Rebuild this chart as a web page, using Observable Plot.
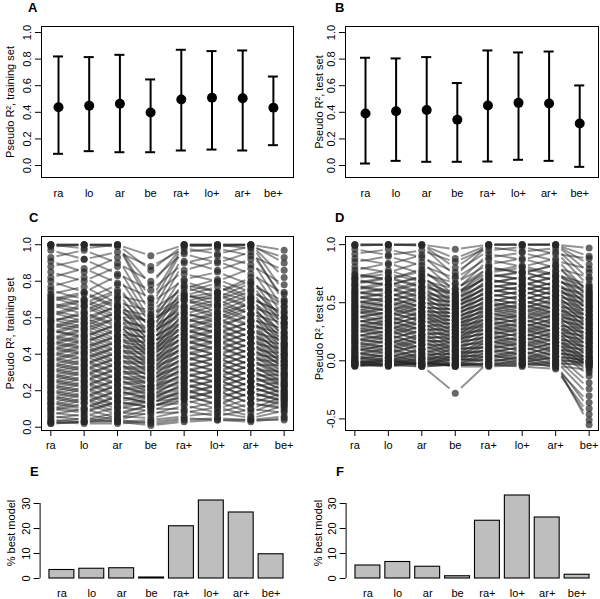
<!DOCTYPE html>
<html><head><meta charset="utf-8">
<script src="https://cdn.jsdelivr.net/npm/d3@7"></script>
<script src="https://cdn.jsdelivr.net/npm/@observablehq/plot@0.6"></script>
<style>
body{margin:0;background:#fff;}
#root{position:relative;width:600px;height:599px;overflow:hidden;background:#fff;font-family:"Liberation Sans",Arial,Helvetica,sans-serif;}
.lab{position:absolute;font-weight:bold;font-size:13px;line-height:13px;color:#000;}
</style></head><body><div id="root"></div>
<script>
// ---------- data ----------
const models = ["ra", "lo", "ar", "be", "ra+", "lo+", "ar+", "be+"];

// Panel A: training set (mean and interval)
const trainMean = [0.438, 0.450, 0.464, 0.398, 0.496, 0.509, 0.506, 0.434];
const trainLow  = [0.088, 0.108, 0.100, 0.100, 0.113, 0.120, 0.113, 0.153];
const trainHigh = [0.820, 0.815, 0.832, 0.647, 0.870, 0.860, 0.865, 0.669];

// Panel B: test set
const testMean = [0.391, 0.408, 0.418, 0.344, 0.451, 0.471, 0.466, 0.316];
const testLow  = [0.015, 0.035, 0.028, 0.028, 0.030, 0.043, 0.035, -0.010];
const testHigh = [0.810, 0.805, 0.815, 0.620, 0.865, 0.850, 0.857, 0.602];

// Panel C: per-case pseudo R² (x100), training set; columns follow `models`
const trainRows = [
"100 100 100 94 100 100 100 97","100 100 100 86 100 100 100 90","100 100 99 78 100 100 100 82",
"99 100 100 70 100 99 100 74","100 98 100 66 99 100 98 68","97 92 96 88 98 95 99 93",
"93 97 90 80 96 98 94 86","91 85 93 62 95 90 96 70","88 92 84 75 90 94 89 78",
"85 80 88 58 91 86 92 64","82 87 79 71 86 91 84 73","80 74 83 56 84 80 87 60",
"77 82 72 68 81 85 78 69","75 70 78 53 80 74 82 57","73 77 68 64 76 81 74 66",
"71 66 74 50 77 71 79 55","69 73 65 61 72 77 70 63","67 62 70 48 73 67 75 52",
"65 69 61 58 69 73 66 60","63 58 67 46 70 63 71 49","61 66 58 55 65 70 62 57",
"59 55 63 44 66 60 68 46","58 62 55 52 62 67 59 54","56 52 60 41 63 57 65 44",
"54 59 51 49 58 63 56 51","53 49 57 39 60 54 62 42","51 56 48 46 55 60 52 48",
"49 46 54 37 57 51 58 40","48 53 45 43 52 57 49 45","46 43 50 35 54 48 55 38",
"45 50 42 41 49 54 46 43","43 40 47 33 51 45 52 36","42 47 39 38 46 51 43 40",
"40 37 44 31 48 42 49 34","39 44 36 36 43 48 40 38","37 34 41 29 45 39 46 32",
"36 41 33 33 40 45 37 36","34 31 38 27 42 36 43 30","33 37 30 31 37 41 34 34",
"31 28 35 25 39 33 40 28","30 34 27 28 34 38 31 31","28 25 32 23 36 30 37 26",
"27 31 24 26 31 35 28 29","25 22 29 21 33 27 34 24","24 28 21 23 28 32 25 27",
"22 19 26 19 30 24 31 22","21 25 18 21 25 29 22 25","19 16 23 17 27 21 28 20",
"18 22 15 18 22 26 19 23","16 13 20 15 24 18 25 18","15 19 12 16 19 23 16 21",
"13 10 17 13 21 15 22 16","12 16 10 14 16 20 13 19","10 8 14 11 18 12 19 14",
"9 13 7 12 13 17 10 17","8 6 11 9 15 10 16 12","7 10 5 10 10 14 8 15",
"6 4 8 7 12 8 13 10","5 7 4 8 8 11 6 12","4 3 6 5 9 6 10 8",
"3 5 3 4 6 8 5 9","2 3 4 2 4 5 4 6","3 2 2 3 5 4 3 5","2 3 3 1 3 4 4 4",
"72 68 75 60 78 74 80 66","70 74 66 57 74 79 71 62","68 64 71 55 72 70 76 60",
"66 70 63 58 71 74 69 57","64 60 66 50 70 66 72 58","62 67 60 53 67 72 65 52",
"60 57 63 47 66 62 68 55","58 63 56 51 64 68 62 49","57 54 60 45 62 59 66 50",
"55 60 53 48 60 65 58 46","53 50 56 43 59 56 61 47","52 57 50 46 57 62 55 44",
"50 47 53 41 56 52 58 45","49 54 47 44 54 59 52 41","47 44 50 39 53 49 55 42",
"46 51 44 42 51 56 49 39","44 41 47 37 50 46 52 40","43 48 41 40 48 53 46 36",
"41 38 44 35 47 43 49 37","40 45 38 37 45 50 43 34","38 35 41 33 44 40 46 35",
"37 42 35 35 42 47 40 32","35 32 38 31 41 37 43 33","34 39 32 32 39 44 37 29",
"32 29 35 28 38 34 40 30","31 36 29 30 36 41 34 27","29 26 32 26 35 31 37 28",
"28 33 26 27 33 38 31 24","26 23 29 23 32 28 34 25","25 30 23 25 30 35 28 22",
"23 20 26 21 29 25 31 23","22 27 20 22 27 32 25 19","20 17 23 18 26 22 28 20",
"19 24 17 20 24 29 22 17","17 14 20 16 23 19 25 18","16 21 14 17 21 26 19 15",
"14 11 17 13 20 16 22 16","13 18 11 15 18 23 16 13","11 9 14 11 17 13 19 14",
"10 15 8 12 15 20 13 11"
];

// Panel D: per-case pseudo R² (x100), test set
const testRows = [
"100 100 100 96 100 100 100 97","100 100 100 88 100 100 100 90","100 100 100 80 100 100 100 83",
"99 100 99 73 100 100 100 76","96 91 95 85 98 94 97 70","92 96 89 76 95 98 92 88",
"88 83 91 66 92 87 94 64","85 90 82 71 89 93 86 79","81 76 85 60 87 81 88 58",
"78 84 75 67 83 88 80 72","75 70 79 56 81 75 83 54","72 78 69 62 77 82 74 66",
"70 65 73 52 75 70 77 50","67 72 64 58 72 77 69 61","65 60 69 48 70 65 73 46",
"62 68 59 54 67 72 64 57","60 55 64 45 66 60 68 43","58 63 55 50 63 68 60 53",
"56 51 60 41 62 56 65 39","54 59 50 47 59 64 56 49","52 47 56 38 58 52 61 36",
"50 55 46 44 55 60 52 46","48 43 53 35 54 48 57 33","47 52 43 41 51 56 48 42",
"45 40 49 32 51 45 54 30","43 48 40 38 47 52 44 39","42 37 46 29 48 42 50 27",
"40 45 37 35 44 49 41 36","38 33 42 27 44 38 47 24","37 42 34 32 41 46 38 33",
"35 30 39 24 41 35 43 21","33 38 30 29 37 42 35 30","32 27 36 21 38 32 40 18",
"30 35 27 26 34 39 31 27","29 24 33 18 35 29 37 15","27 32 23 23 31 36 28 24",
"26 21 30 16 32 26 34 12","24 29 20 20 28 33 25 21","22 18 27 13 29 23 31 9",
"21 26 17 17 25 30 22 18","19 15 23 10 26 20 28 6","18 23 14 14 22 27 19 15",
"16 12 20 8 23 17 25 3","15 20 11 11 19 24 16 12","13 9 17 5 20 14 22 0",
"11 17 8 8 16 21 13 9","10 6 14 3 17 11 19 -3","8 14 5 6 13 18 10 6",
"7 3 10 1 14 8 16 -6","6 11 3 4 10 15 7 3","4 1 7 -1 11 5 13 -10",
"3 8 1 2 7 12 4 0","2 -1 4 -3 8 2 10 -13","1 5 -2 0 4 9 1 -2",
"0 -2 2 -4 5 0 6 -19","-1 3 -3 -2 2 6 -1 -5","-2 -3 0 -5 2 -1 3 -24",
"-3 1 -4 -28 -1 3 -4 -8","-4 -4 -2 -4 -2 -3 0 -30","-5 -2 -5 -3 -4 1 -6 -36",
"-3 -5 -1 -5 -5 -4 -3 -41","-2 0 -4 -2 -3 -5 -7 -46","-4 -3 -3 -4 -2 -2 -5 -51",
"-1 -4 -5 -3 -4 -3 -2 -55",
"74 70 77 62 80 76 82 60","71 75 68 58 76 80 73 63","69 65 72 55 74 70 77 56",
"66 71 63 57 72 76 69 59","64 59 67 51 70 65 72 52","61 66 58 53 67 72 64 55",
"59 55 62 48 65 61 68 48","57 62 54 50 63 67 60 51","55 51 58 45 61 57 64 44",
"53 58 50 47 59 64 56 47","51 47 54 42 57 53 60 40","49 54 46 44 55 60 52 43",
"47 43 50 39 53 49 56 36","45 50 42 41 51 56 48 39","43 39 46 36 49 45 52 32",
"41 46 38 38 47 52 44 35","39 35 42 33 45 41 48 28","37 42 34 35 43 48 40 31",
"35 31 38 30 41 37 44 24","33 38 30 32 39 44 36 27","31 27 34 27 37 33 40 20",
"29 34 26 29 35 40 32 23","27 23 30 24 33 29 36 16","25 30 22 26 31 36 28 19",
"23 19 26 21 29 25 32 12","21 26 18 23 27 32 24 15","19 15 22 18 25 21 28 8",
"17 22 14 20 23 28 20 11","15 11 18 15 21 17 24 4","13 18 10 17 19 24 16 7",
"11 7 14 12 17 13 20 0","9 14 6 14 15 20 12 3","7 3 10 9 13 9 16 -2",
"5 10 2 11 11 16 8 1","3 0 6 6 9 5 12 -4","1 6 -1 8 7 12 4 0",
"0 -3 2 3 5 1 8 -3","-2 2 -4 5 3 8 0 -1","-3 -4 -1 1 1 -2 4 -5","-4 0 -3 2 -1 4 -3 -2"
];

// Panels E, F: % best model
const bestTrain = [3.4, 3.9, 4.1, 0.4, 20.9, 31.2, 26.4, 9.7];
const bestTest  = [5.2, 6.6, 4.7, 0.9, 23.1, 33.2, 24.4, 1.5];

// tick values
const ticks01 = [0, 0.2, 0.4, 0.6, 0.8, 1.0];
const ticksD = [-0.5, 0, 0.5, 1.0];
const ticksBest = [0, 10, 20, 30];

// ---------- drawing ----------
const FONT = '"Liberation Sans", Arial, Helvetica, sans-serif';
const root = document.getElementById("root");
const positions = models.map((_, i) => i + 1);
const baseStyle = {fontFamily: FONT, fontSize: "11px", background: "transparent", color: "#000", overflow: "visible"};

function place(el, left, top) {
  el.style.position = "absolute";
  el.style.left = left + "px";
  el.style.top = top + "px";
  root.appendChild(el);
}
function letter(t, left, top) {
  const d = document.createElement("div");
  d.className = "lab"; d.textContent = t;
  d.style.left = left + "px"; d.style.top = top + "px";
  root.appendChild(d);
}
function yTitle(label, dx, dy = 0) {
  return Plot.text([label], {text: d => d, frameAnchor: "left", rotate: -90, dx, dy, textAnchor: "middle", lineAnchor: "bottom", fontSize: 11, fill: "#000"});
}

function errorPanel(mean, low, high, xdom, mL, mR, ylabel, dxLab) {
  const data = models.map((m, i) => ({pos: i + 1, mean: mean[i], low: low[i], high: high[i]}));
  const cap = 5 / (252 / (xdom[1] - xdom[0]));
  return Plot.plot({
    width: 300, height: 210, marginTop: 26, marginBottom: 33, marginLeft: mL, marginRight: mR,
    style: baseStyle,
    x: {domain: xdom, label: null},
    y: {domain: [-0.09, 1.045], label: null},
    marks: [
      Plot.axisY({ticks: ticks01, tickSize: 6, tickPadding: 5, tickRotate: -90, tickFormat: d => d.toFixed(1), label: null, fontSize: 11, color: "#000"}),
      Plot.axisX({ticks: positions, tickSize: 0, tickPadding: 12, tickFormat: p => models[p - 1], label: null, fontSize: 11, color: "#000"}),
      Plot.ruleX(data, {x: "pos", y1: "low", y2: "high", stroke: "#000", strokeWidth: 2}),
      Plot.ruleY(data, {y: "high", x1: d => d.pos - cap, x2: d => d.pos + cap, stroke: "#000", strokeWidth: 2}),
      Plot.ruleY(data, {y: "low", x1: d => d.pos - cap, x2: d => d.pos + cap, stroke: "#000", strokeWidth: 2}),
      Plot.dot(data, {x: "pos", y: "mean", r: 5, fill: "#000", stroke: "none"}),
      Plot.frame({stroke: "#000", strokeWidth: 1}),
      yTitle(ylabel, dxLab)
    ]
  });
}

function parallelPanel(rows, ydom, yticks, mL, mR, ylabel, dxLab) {
  const vals = rows.map(s => s.trim().split(/\s+/).map(v => +v / 100));
  const pts = vals.flatMap(r => r.map((v, i) => ({pos: i + 1, v})));
  const g = 0.17; // gap next to points (type = "b")
  const segs = vals.flatMap(r => r.slice(0, -1).map((v, i) => {
    const w = r[i + 1];
    return {x1: i + 1 + g, x2: i + 2 - g, y1: v + (w - v) * g, y2: w - (w - v) * g};
  }));
  return Plot.plot({
    width: 300, height: 255, marginTop: 36, marginBottom: 25, marginLeft: mL, marginRight: mR,
    style: baseStyle,
    x: {domain: [0.72, 8.28], label: null},
    y: {domain: ydom, label: null},
    marks: [
      Plot.link(segs, {x1: "x1", x2: "x2", y1: "y1", y2: "y2", stroke: "#262626", strokeOpacity: 0.5, strokeWidth: 1.9}),
      Plot.dot(pts, {x: "pos", y: "v", r: 3.5, fill: "#262626", fillOpacity: 0.7, stroke: "none"}),
      Plot.frame({stroke: "#000", strokeWidth: 1}),
      Plot.axisY({ticks: yticks, tickSize: 6, tickPadding: 5, tickRotate: -90, tickFormat: d => d.toFixed(1), label: null, fontSize: 11, color: "#000"}),
      Plot.axisX({ticks: positions, tickSize: 6, tickPadding: 5, tickFormat: p => models[p - 1], label: null, fontSize: 11, color: "#000"}),
      yTitle(ylabel, dxLab)
    ]
  });
}

function barPanel(pct, mL, mR, dxLab) {
  const data = models.map((m, i) => ({m, left: 0.2 + 1.2 * i, right: 1.2 + 1.2 * i, mid: 0.7 + 1.2 * i, v: pct[i]}));
  const nameAt = new Map(data.map(d => [d.mid, d.m]));
  const xmin = -0.176;
  return Plot.plot({
    width: 300, height: 144, marginTop: 48, marginBottom: 21, marginLeft: mL, marginRight: mR,
    style: baseStyle,
    x: {domain: [xmin, 9.976], label: null},
    y: {domain: [0, 30], label: null},
    marks: [
      Plot.rectY(data, {x1: "left", x2: "right", y1: 0, y2: "v", fill: "#bebebe", stroke: "#000", strokeWidth: 1.1}),
      Plot.ruleX([xmin], {y1: 0, y2: 30, stroke: "#000", strokeWidth: 1}),
      Plot.axisY({ticks: ticksBest, tickSize: 6, tickPadding: 4, tickRotate: -90, tickFormat: d => String(d), label: null, fontSize: 11, color: "#000"}),
      Plot.axisX({ticks: data.map(d => d.mid), tickSize: 0, tickPadding: 10.5, tickFormat: d => nameAt.get(d), label: null, fontSize: 11, color: "#000"}),
      yTitle("% best model", dxLab, -8)
    ]
  });
}

place(errorPanel(trainMean, trainLow, trainHigh, [0.446, 8.655], 41, 7, "Pseudo R², training set", -28), 0, 0);
place(errorPanel(testMean, testLow, testHigh, [0.346, 8.614], 45, 2, "Pseudo R², test set", -23), 300, 0);
place(parallelPanel(trainRows, [-0.018, 1.045], ticks01, 41, 7, "Pseudo R², training set", -28), 0, 200);
place(parallelPanel(testRows, [-0.6, 1.07], ticksD, 45, 2, "Pseudo R², test set", -23), 300, 200);
place(barPanel(bestTrain, 39.6, 7.6, -24.6), 0, 455);
place(barPanel(bestTest, 45.6, 1.6, -24), 300, 455);

letter("A", 28, 1); letter("B", 335, 1);
letter("C", 29, 211); letter("D", 335, 211);
letter("E", 30, 465); letter("F", 336, 465);
</script></body></html>
